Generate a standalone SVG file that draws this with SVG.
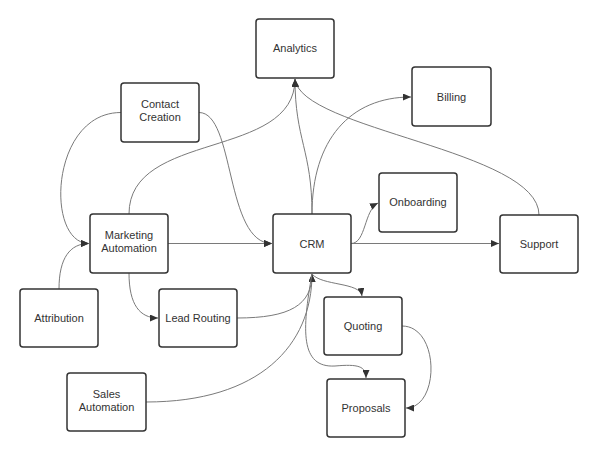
<svg xmlns="http://www.w3.org/2000/svg" width="598" height="457" viewBox="0 0 598 457">
<style>
.n rect{fill:#fff;stroke:#333;stroke-width:1.5}
.n text{font-family:"Liberation Sans",Arial,sans-serif;font-size:11px;fill:#333;text-anchor:middle}
.c path{fill:none;stroke:#7a7a7a;stroke-width:1}
.c path.a{marker-end:url(#ah)}
</style>
<defs>
<marker id="ah" markerUnits="userSpaceOnUse" markerWidth="9" markerHeight="7" refX="8" refY="3.5" orient="auto">
<path d="M0,0 L8,3.5 L0,7 z" fill="#333"/>
</marker>
</defs>
<rect width="598" height="457" fill="#fff"/>
<g id="connectors" class="c">
<path class="a" d="M121,112.5 C50,112.5 45,243.5 89,243.5"/>
<path class="a" d="M59,289 C59,258 70,243.5 89,243.5"/>
<path class="a" d="M199,112.5 C235,112.5 225,243.5 272,243.5"/>
<path class="a" d="M129,214 C129,130 295,160 295,79"/>
<path class="a" d="M312,214 C312,150 295,140 295,79"/>
<path class="a" d="M312,214 C312,140 350,97 411,97"/>
<path class="a" d="M539,215 C539,150 300,130 295,79"/>
<path class="a" d="M168,243.5 L272,243.5"/>
<path class="a" d="M129,273 C129,305 140,318 158,318"/>
<path class="a" d="M237,318 C290,318 312,305 312,274"/>
<path class="a" d="M146,402 C260,402 312,345 312,274"/>
<path class="a" d="M351,243.5 C366,243.5 364,210 378,203"/>
<path class="a" d="M351,243.5 L499,243.5"/>
<path class="a" d="M312,274 C322,286 360,282 362,296"/>
<path class="a" d="M312,274 C302,330 300,368 335,366 C358,364 366,366 366,378"/>
<path class="a" d="M402,326 C440,326 440,408 406,408"/>
</g>
<g id="analytics" class="n"><rect x="256" y="19" width="78" height="59" rx="3"/><text x="295" y="52">Analytics</text></g>
<g id="contact-creation" class="n"><rect x="121" y="83" width="78" height="59" rx="3"/><text x="160" y="108">Contact</text><text x="160" y="121">Creation</text></g>
<g id="billing" class="n"><rect x="412" y="67" width="79" height="59" rx="3"/><text x="451.5" y="100.5">Billing</text></g>
<g id="onboarding" class="n"><rect x="379" y="173" width="78" height="59" rx="3"/><text x="418" y="206">Onboarding</text></g>
<g id="marketing-automation" class="n"><rect x="90" y="214" width="78" height="59" rx="3"/><text x="129" y="239">Marketing</text><text x="129" y="252">Automation</text></g>
<g id="crm" class="n"><rect x="273" y="214" width="78" height="59" rx="3"/><text x="312" y="247.5">CRM</text></g>
<g id="support" class="n"><rect x="500" y="215" width="78" height="58" rx="3"/><text x="539" y="247.5">Support</text></g>
<g id="attribution" class="n"><rect x="20" y="289" width="78" height="58" rx="3"/><text x="59" y="322">Attribution</text></g>
<g id="lead-routing" class="n"><rect x="159" y="289" width="78" height="58" rx="3"/><text x="198" y="322">Lead Routing</text></g>
<g id="quoting" class="n"><rect x="324" y="297" width="78" height="58" rx="3"/><text x="363" y="330">Quoting</text></g>
<g id="sales-automation" class="n"><rect x="67" y="373" width="79" height="58" rx="3"/><text x="106.5" y="397.5">Sales</text><text x="106.5" y="410.5">Automation</text></g>
<g id="proposals" class="n"><rect x="327" y="379" width="78" height="58" rx="3"/><text x="366" y="412">Proposals</text></g>
</svg>
